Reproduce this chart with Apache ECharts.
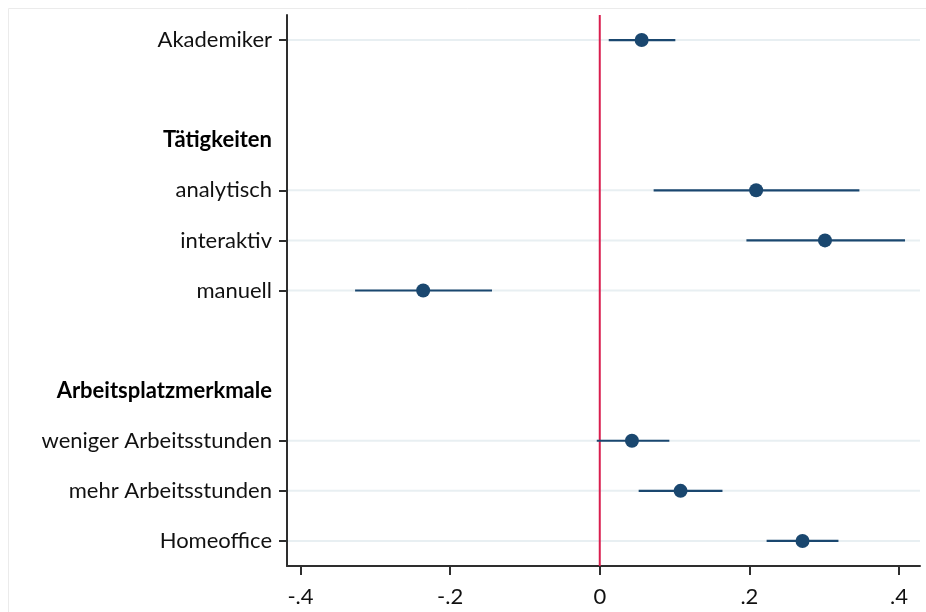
<!DOCTYPE html>
<html>
<head>
<meta charset="utf-8">
<script src="https://cdn.jsdelivr.net/npm/echarts@6/dist/echarts.min.js"></script>
<style>html,body{margin:0;padding:0;background:#fff}#c{width:926px;height:612px}</style>
</head>
<body>
<div id="c"></div>
<script>
// categories (top to bottom); blank strings are spacer rows
const categories = ['Akademiker', ' ', 'Tätigkeiten', 'analytisch', 'interaktiv', 'manuell', '  ', 'Arbeitsplatzmerkmale', 'weniger Arbeitsstunden', 'mehr Arbeitsstunden', 'Homeoffice'];
const headers = ['Tätigkeiten', 'Arbeitsplatzmerkmale'];
// estimates and confidence bounds (null for header/blank rows)
const estimate = [0.056, null, null, 0.209, 0.301, -0.236, null, null, 0.043, 0.108, 0.271];
const lower    = [0.012, null, null, 0.072, 0.196, -0.327, null, null, -0.004, 0.052, 0.223];
const upper    = [0.101, null, null, 0.347, 0.408, -0.144, null, null, 0.093, 0.164, 0.319];
const refLine = [0];
const xTicks = [-0.4, -0.2, 0, 0.2, 0.4];
const xTickLabels = ['-.4', '-.2', '0', '.2', '.4'];

const isItem = (i) => estimate[i] !== null;
const FONT = 'Lato';
const FS = 22;
const navy = '#1a476f';
const axisColor = '#2e2e2e';

const ciData = [], ptData = [], gridData = [];
categories.forEach((c, i) => {
  if (isItem(i)) {
    ciData.push([lower[i], upper[i], i]);
    ptData.push([estimate[i], i]);
    gridData.push([0, i]);
  }
});

const chart = echarts.init(document.getElementById('c'));
chart.setOption({
  animation: false,
  backgroundColor: '#fff',
  graphic: [{
    type: 'rect', shape: {x: 8.5, y: 8.5, width: 1000, height: 1000},
    style: {fill: 'none', stroke: '#ebebeb', lineWidth: 1}, silent: true, z: -10
  }],
  grid: {left: 287, right: 6, top: 15, bottom: 46},
  xAxis: {
    type: 'value', min: -0.418, max: 0.428,
    axisLine: {show: true, onZero: false, lineStyle: {color: axisColor, width: 2}},
    axisTick: {show: true, length: 9, customValues: xTicks, lineStyle: {color: axisColor, width: 2}},
    axisLabel: {
      customValues: xTicks, margin: 20, fontFamily: FONT, fontSize: FS, color: '#111',
      formatter: (v) => { const k = xTicks.findIndex(t => Math.abs(t - v) < 1e-9); return k >= 0 ? xTickLabels[k] : ''; }
    },
    splitLine: {show: false}
  },
  yAxis: {
    type: 'category', data: categories, inverse: true,
    axisLine: {show: true, onZero: false, lineStyle: {color: axisColor, width: 2}},
    axisTick: {show: true, alignWithLabel: true, length: 8, interval: (i) => isItem(i), lineStyle: {color: axisColor, width: 2}},
    axisLabel: {
      interval: 0, margin: 15, fontFamily: FONT, fontSize: FS, color: '#111',
      formatter: (v) => headers.includes(v) ? '{b|' + v + '}' : v,
      rich: {b: {fontFamily: FONT, fontSize: FS, fontWeight: 'bold', color: '#000'}}
    },
    splitLine: {show: false}
  },
  series: [
    {
      // light horizontal grid lines at each item row
      type: 'custom', data: gridData, encode: {x: 0, y: 1}, silent: true, z: 1,
      renderItem: (params, api) => {
        const cs = params.coordSys;
        const p = api.coord([0, api.value(1)]);
        return {type: 'line', shape: {x1: cs.x + 1, y1: p[1], x2: cs.x + cs.width, y2: p[1]}, style: {stroke: '#e8eff2', lineWidth: 2}};
      }
    },
    {
      // red reference line at zero
      type: 'custom', data: refLine.map(v => [v, 0]), encode: {x: 0, y: 1}, silent: true, z: 2,
      renderItem: (params, api) => {
        const cs = params.coordSys;
        const p = api.coord([api.value(0), 0]);
        return {type: 'line', shape: {x1: p[0], y1: cs.y, x2: p[0], y2: cs.y + cs.height}, style: {stroke: '#d91e4e', lineWidth: 2}};
      }
    },
    {
      // confidence intervals
      type: 'custom', data: ciData, encode: {x: [0, 1], y: 2}, z: 3,
      renderItem: (params, api) => {
        const a = api.coord([api.value(0), api.value(2)]);
        const b = api.coord([api.value(1), api.value(2)]);
        return {type: 'line', shape: {x1: a[0], y1: a[1], x2: b[0], y2: b[1]}, style: {stroke: navy, lineWidth: 2.2}};
      }
    },
    {
      type: 'scatter', data: ptData, symbol: 'circle', symbolSize: 14,
      itemStyle: {color: navy, opacity: 1}, z: 4
    }
  ]
});
</script>
</body>
</html>
